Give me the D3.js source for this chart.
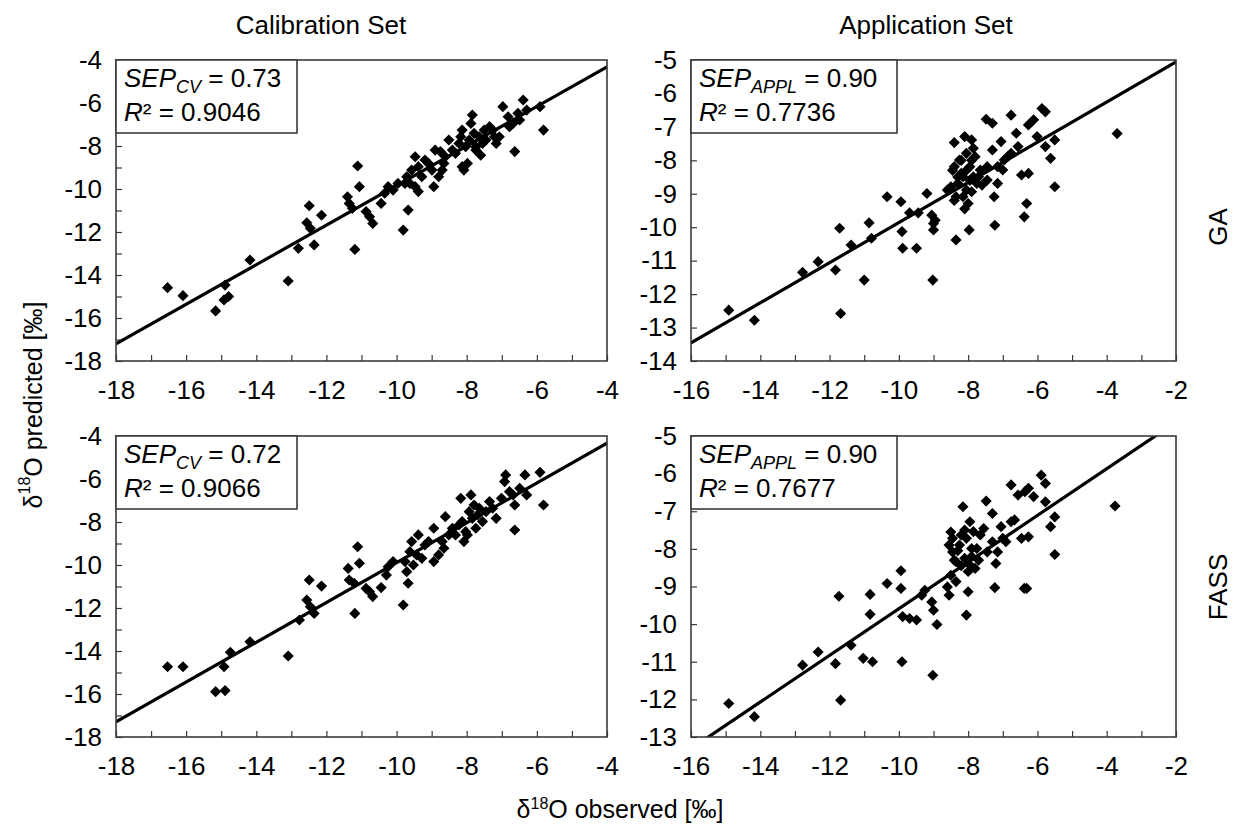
<!DOCTYPE html>
<html>
<head>
<meta charset="utf-8">
<script src="https://cdn.jsdelivr.net/npm/d3@7"></script>
<style>
  body { margin: 0; background: #fff; }
  svg { display: block; font-family: "Liberation Sans", Arial, sans-serif; }
</style>
</head>
<body>
<svg width="1240" height="824"></svg>
<script>
// observed vs predicted d18O, [observed, predicted]
const gaCal = [[-16.53,-14.59],[-16.09,-14.96],[-15.16,-15.67],[-14.89,-14.47],[-14.92,-15.16],[-14.79,-15.0],[-14.18,-13.30],[-13.09,-14.28],[-12.80,-12.76],[-12.49,-10.78],[-12.56,-11.57],[-12.46,-11.83],[-12.35,-12.60],[-12.14,-11.22],[-11.40,-10.36],[-11.35,-10.67],[-11.26,-10.90],[-11.11,-8.93],[-11.06,-9.89],[-11.19,-12.81],[-10.87,-11.05],[-10.77,-11.29],[-10.68,-11.60],[-10.44,-10.67],[-10.34,-10.20],[-10.24,-9.89],[-10.10,-10.05],[-9.81,-11.91],[-9.67,-10.98],[-9.76,-9.74],[-9.71,-9.43],[-9.62,-9.74],[-9.57,-9.12],[-9.47,-8.50],[-9.38,-8.96],[-9.38,-10.12],[-9.28,-9.43],[-9.09,-8.81],[-8.94,-9.89],[-8.90,-8.19],[-8.80,-9.43],[-8.70,-9.12],[-8.61,-8.50],[-8.51,-7.72],[-8.41,-8.19],[-8.22,-7.88],[-8.13,-7.26],[-8.08,-9.12],[-7.98,-8.81],[-7.93,-7.72],[-7.84,-6.56],[-7.79,-7.41],[-7.74,-8.03],[-7.64,-7.57],[-7.60,-8.43],[-7.50,-7.26],[-7.35,-7.10],[-7.16,-7.88],[-7.07,-7.57],[-6.97,-6.17],[-6.82,-6.64],[-6.68,-6.95],[-6.63,-8.26],[-6.54,-6.48],[-6.39,-5.86],[-6.29,-6.33],[-5.91,-6.17],[-5.81,-7.26],[-8.32,-8.34],[-8.65,-8.81],[-8.03,-8.03],[-7.88,-6.95],[-7.45,-7.72],[-7.26,-7.26],[-7.21,-7.57],[-6.78,-7.10],[-6.49,-6.79],[-9.47,-9.89],[-9.96,-9.74],[-9.19,-8.65],[-8.99,-9.12],[-8.75,-8.26],[-8.17,-7.57],[-7.55,-7.88],[-7.74,-8.19],[-8.13,-8.96]];

const gaAppl = [[-14.91,-12.48],[-14.17,-12.78],[-12.78,-11.35],[-12.33,-11.03],[-11.83,-11.28],[-11.71,-10.03],[-11.68,-12.58],[-11.38,-10.53],[-11.00,-11.58],[-10.86,-9.87],[-10.79,-10.33],[-10.34,-9.09],[-9.94,-9.24],[-9.91,-10.13],[-9.89,-10.63],[-9.69,-9.57],[-9.49,-10.63],[-9.44,-9.57],[-9.19,-8.99],[-9.05,-9.64],[-9.02,-11.58],[-9.00,-9.89],[-9.00,-10.08],[-8.95,-9.79],[-8.60,-8.89],[-8.40,-7.47],[-8.40,-8.19],[-8.35,-10.38],[-8.30,-8.69],[-8.25,-7.99],[-8.20,-8.39],[-8.15,-9.09],[-8.10,-7.29],[-8.05,-8.89],[-8.00,-9.29],[-7.97,-10.08],[-7.95,-8.19],[-7.90,-7.39],[-7.85,-7.64],[-7.85,-8.49],[-7.80,-7.89],[-7.75,-8.69],[-7.65,-8.29],[-7.48,-6.77],[-7.60,-8.74],[-7.30,-6.89],[-7.30,-7.69],[-7.25,-9.09],[-7.23,-9.94],[-7.15,-8.69],[-7.15,-8.19],[-7.05,-7.44],[-6.96,-7.99],[-6.76,-6.65],[-6.76,-7.79],[-6.61,-7.19],[-6.56,-7.59],[-6.46,-8.44],[-6.38,-9.69],[-6.31,-9.29],[-6.26,-8.39],[-6.26,-6.94],[-6.11,-6.79],[-6.01,-7.29],[-5.87,-6.45],[-5.77,-6.55],[-5.77,-7.59],[-5.62,-7.94],[-5.50,-7.39],[-5.50,-8.79],[-8.50,-8.79],[-8.35,-9.09],[-8.15,-8.49],[-8.05,-7.79],[-7.90,-8.94],[-7.70,-8.49],[-7.45,-8.19],[-7.00,-8.29],[-6.86,-7.89],[-7.45,-8.59],[-3.70,-7.20],[-8.45,-8.30],[-8.30,-8.50],[-8.20,-8.00],[-8.05,-8.30],[-7.95,-8.60],[-8.40,-9.20],[-8.10,-9.45],[-7.90,-8.00]];

const fassCal = [[-16.53,-14.73],[-16.09,-14.73],[-15.16,-15.89],[-14.89,-15.84],[-14.92,-14.73],[-14.74,-14.06],[-14.18,-13.57],[-13.09,-14.23],[-12.77,-12.56],[-12.49,-10.70],[-12.56,-11.63],[-12.46,-11.94],[-12.35,-12.25],[-12.14,-10.98],[-11.38,-10.16],[-11.35,-10.70],[-11.21,-10.85],[-11.11,-9.15],[-11.06,-9.92],[-11.19,-12.25],[-10.87,-11.09],[-10.77,-11.24],[-10.68,-11.47],[-10.44,-11.05],[-10.29,-10.47],[-10.24,-10.08],[-10.10,-9.84],[-9.81,-11.86],[-9.67,-10.85],[-9.71,-10.31],[-9.76,-9.84],[-9.62,-9.38],[-9.57,-8.91],[-9.43,-9.53],[-9.38,-8.60],[-9.28,-9.69],[-9.09,-8.91],[-8.94,-9.84],[-8.94,-8.29],[-8.80,-9.53],[-8.70,-8.91],[-8.61,-7.75],[-8.51,-8.60],[-8.41,-8.29],[-8.17,-6.90],[-8.13,-7.98],[-8.08,-8.91],[-7.98,-8.60],[-7.88,-6.74],[-7.84,-7.83],[-7.74,-8.29],[-7.64,-7.36],[-7.55,-7.98],[-7.35,-7.05],[-7.16,-7.83],[-7.01,-6.90],[-6.89,-5.81],[-6.92,-6.12],[-6.78,-6.59],[-6.63,-7.21],[-6.63,-8.37],[-6.49,-6.43],[-6.34,-5.81],[-6.29,-6.74],[-5.91,-5.69],[-5.81,-7.21],[-8.32,-8.60],[-8.65,-9.22],[-8.03,-8.45],[-7.93,-7.52],[-7.79,-7.21],[-7.45,-7.52],[-7.26,-7.36],[-6.68,-6.74],[-9.19,-9.07],[-9.52,-10.00],[-7.69,-7.67],[-8.22,-8.14]];

const fassAppl = [[-14.91,-12.11],[-14.17,-12.46],[-12.78,-11.09],[-12.33,-10.74],[-11.83,-11.05],[-11.73,-9.26],[-11.68,-12.02],[-11.38,-10.56],[-11.03,-10.91],[-10.83,-9.21],[-10.83,-9.74],[-10.76,-11.00],[-10.34,-8.92],[-9.94,-8.58],[-9.94,-9.05],[-9.91,-11.00],[-9.89,-9.80],[-9.69,-9.85],[-9.49,-9.89],[-9.34,-9.23],[-9.25,-9.10],[-9.05,-9.41],[-9.02,-11.36],[-9.00,-9.63],[-8.90,-10.01],[-8.60,-9.01],[-8.55,-9.23],[-8.50,-8.70],[-8.45,-7.72],[-8.45,-8.08],[-8.25,-7.90],[-8.15,-6.88],[-8.10,-8.25],[-8.05,-9.76],[-8.00,-9.14],[-7.95,-7.28],[-7.85,-7.54],[-7.80,-8.52],[-7.75,-7.99],[-7.48,-6.73],[-7.30,-7.06],[-7.30,-7.81],[-7.23,-9.03],[-7.20,-8.39],[-7.15,-8.08],[-7.05,-7.41],[-6.91,-7.81],[-6.76,-6.30],[-6.76,-7.28],[-6.56,-6.57],[-6.46,-7.72],[-6.38,-9.05],[-6.31,-9.05],[-6.26,-7.68],[-6.26,-6.39],[-6.11,-6.61],[-5.89,-6.04],[-5.77,-6.26],[-5.77,-6.75],[-5.62,-7.41],[-5.50,-7.15],[-5.50,-8.15],[-8.35,-8.34],[-8.20,-7.63],[-7.95,-8.43],[-7.65,-7.63],[-7.45,-8.08],[-8.35,-8.87],[-8.55,-7.90],[-8.05,-7.72],[-7.90,-7.99],[-7.00,-7.72],[-6.66,-7.23],[-6.36,-6.48],[-7.55,-7.46],[-3.76,-6.86],[-8.50,-7.55],[-8.40,-8.30],[-8.30,-8.05],[-8.20,-8.45],[-8.10,-7.50],[-7.90,-8.20],[-8.00,-8.60],[-7.70,-8.30]];

// panel order: GA cal, GA appl, FASS cal, FASS appl
const panelData = [gaCal, gaAppl, fassCal, fassAppl];
const xDomains = [[-18, -4], [-16, -2], [-18, -4], [-16, -2]];
const yDomains = [[-18, -4], [-14, -5], [-18, -4], [-13, -5]];
const yTickStep = [1, 1, 1, 1];
const yLabelStep = [2, 1, 2, 1];
const fitSlope = [0.92, 0.60, 0.926, 0.62];
const fitIntercept = [-0.64, -3.86, -0.63, -3.39];
const sepSub = ["CV", "APPL", "CV", "APPL"];
const sepValues = ["0.73", "0.90", "0.72", "0.90"];
const r2Values = ["0.9046", "0.7736", "0.9066", "0.7677"];
const colTitles = ["Calibration Set", "Application Set"];
const rowTitles = ["GA", "FASS"];

const svg = d3.select("svg");
const colX = [[116, 607], [691, 1176]];
const rowY = [[60, 361], [436, 737]];

panelData.forEach((pts, i) => {
  const col = i % 2, row = Math.floor(i / 2);
  const [x0, x1] = colX[col], [y0, y1] = rowY[row];
  const x = d3.scaleLinear().domain(xDomains[i]).range([x0, x1]);
  const y = d3.scaleLinear().domain(yDomains[i]).range([y1, y0]);
  const g = svg.append("g");

  g.append("clipPath").attr("id", "clip" + i)
    .append("rect").attr("x", x0).attr("y", y0).attr("width", x1 - x0).attr("height", y1 - y0);

  const xt = d3.range(xDomains[i][0], xDomains[i][1] + 0.5, 1);
  const xAxis = g.append("g")
      .attr("transform", `translate(0,${y1})`)
      .call(d3.axisBottom(x).tickValues(xt).tickSize(-6).tickPadding(20)
        .tickFormat(d => d % 2 === 0 ? String(d) : ""));
  const yt = d3.range(yDomains[i][0], yDomains[i][1] + 0.5, yTickStep[i]);
  const yAxis = g.append("g")
      .attr("transform", `translate(${x0},0)`)
      .call(d3.axisLeft(y).tickValues(yt).tickSize(-6).tickPadding(14)
        .tickFormat(d => d % yLabelStep[i] === 0 ? String(d) : ""));
  [xAxis, yAxis].forEach(a => {
    a.select(".domain").remove();
    a.selectAll(".tick line").attr("stroke", "#3a3a3a").attr("stroke-width", 1.2);
    a.selectAll(".tick text").attr("fill", "#000").attr("font-size", 26)
      .attr("font-family", "Liberation Sans, Arial, sans-serif");
  });

  const xs = x.domain();
  g.append("line")
      .attr("clip-path", `url(#clip${i})`)
      .attr("x1", x(xs[0])).attr("y1", y(fitSlope[i] * xs[0] + fitIntercept[i]))
      .attr("x2", x(xs[1])).attr("y2", y(fitSlope[i] * xs[1] + fitIntercept[i]))
      .attr("stroke", "#000").attr("stroke-width", 3.2);

  g.append("g").selectAll("path")
    .data(pts)
    .join("path")
      .attr("d", d3.symbol().type(d3.symbolSquare).size(62))
      .attr("transform", d => `translate(${x(d[0])},${y(d[1])}) rotate(45)`)
      .attr("fill", "#000");

  g.append("rect")
      .attr("x", x0).attr("y", y0).attr("width", x1 - x0).attr("height", y1 - y0)
      .attr("fill", "none").attr("stroke", "#3a3a3a").attr("stroke-width", 1.6);

  // stats box
  const bw = col === 0 ? 181 : 206;
  g.append("rect")
      .attr("x", x0).attr("y", y0).attr("width", bw).attr("height", 73)
      .attr("fill", "#fff").attr("stroke", "#3a3a3a").attr("stroke-width", 1.6);
  const t1 = g.append("text").attr("x", x0 + 8).attr("y", y0 + 27).attr("font-size", 26);
  t1.append("tspan").attr("font-style", "italic").text("SEP");
  t1.append("tspan").attr("font-style", "italic").attr("font-size", 18).attr("dy", 6).text(sepSub[i]);
  t1.append("tspan").attr("dy", -6).text(" = " + sepValues[i]);
  const t2 = g.append("text").attr("x", x0 + 8).attr("y", y0 + 61).attr("font-size", 26);
  t2.append("tspan").attr("font-style", "italic").text("R");
  t2.append("tspan").text("² = " + r2Values[i]);
});

colTitles.forEach((t, c) => {
  svg.append("text")
      .attr("x", c === 0 ? 321 : 926).attr("y", 34)
      .attr("text-anchor", "middle").attr("font-size", 26).text(t);
});

rowTitles.forEach((t, r) => {
  svg.append("text")
      .attr("transform", `translate(1218,${r === 0 ? 227 : 587}) rotate(-90)`)
      .attr("text-anchor", "middle").attr("dominant-baseline", "central")
      .attr("font-size", 26).text(t);
});

const yl = svg.append("text")
    .attr("transform", "translate(33,405) rotate(-90)")
    .attr("text-anchor", "middle").attr("dominant-baseline", "central")
    .attr("font-size", 25);
yl.append("tspan").text("δ");
yl.append("tspan").attr("font-size", 16).attr("dy", -9).text("18");
yl.append("tspan").attr("dy", 9).text("O predicted [‰]");

const xl = svg.append("text")
    .attr("x", 620).attr("y", 818)
    .attr("text-anchor", "middle").attr("font-size", 25);
xl.append("tspan").text("δ");
xl.append("tspan").attr("font-size", 16).attr("dy", -9).text("18");
xl.append("tspan").attr("dy", 9).text("O observed [‰]");
</script>
</body>
</html>
